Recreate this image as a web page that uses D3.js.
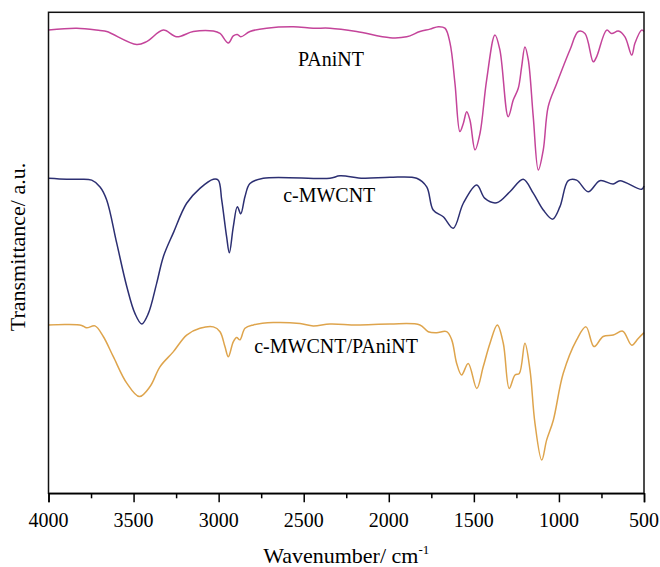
<!DOCTYPE html>
<html>
<head>
<meta charset="utf-8">
<script src="https://cdn.jsdelivr.net/npm/d3@7"></script>
</head>
<body style="margin:0">
<svg id="chart" width="660" height="567"></svg>
<script>
/* FTIR spectra, offset vertically; y is arbitrary transmittance units */

const wavenumberTicks = [4000, 3500, 3000, 2500, 2000, 1500, 1000, 500];
const minorTicks = [3750, 3250, 2750, 2250, 1750, 1250, 750];

const seriesNames = ["PAniNT", "c-MWCNT", "c-MWCNT/PAniNT"];

// [wavenumber, transmittance(a.u.)]
const paniNT = [
  [4000,96.3],[3834,96.7],[3697,96.2],[3658,96.0],[3482,93.3],[3423,93.9],[3325,96.3],[3247,94.9],
  [3149,96.0],[3031,96.1],[2992,95.6],[2943,93.6],[2914,95.1],[2890,95.4],[2870,94.9],[2816,96.0],
  [2718,96.7],[2561,97.0],[2444,96.7],[2346,96.7],[2189,96.0],[1993,94.7],[1895,94.9],[1817,96.0],
  [1758,96.5],[1709,97.0],[1670,96.7],[1640,93.6],[1611,85.2],[1582,75.2],[1562,76.9],[1542,79.3],
  [1523,77.6],[1493,71.4],[1464,74.8],[1425,85.9],[1376,95.3],[1347,92.2],[1298,78.3],[1268,81.8],
  [1239,84.2],[1219,88.7],[1200,92.8],[1180,90.1],[1151,78.3],[1121,67.2],[1092,71.4],[1063,80.4],
  [1013,85.2],[935,92.2],[886,96.0],[847,95.6],[798,89.7],[778,90.8],[719,96.3],[690,95.6],
  [651,96.1],[612,94.9],[572,91.1],[553,93.6],[514,96.3],[500,96.0]
];

const cMWCNT = [
  [4000,65.5],[3893,65.3],[3815,65.3],[3746,65.1],[3697,63.7],[3658,61.0],[3599,52.0],[3540,43.0],
  [3492,37.4],[3452,35.2],[3413,37.4],[3364,43.7],[3325,49.2],[3267,54.1],[3188,60.3],[3110,63.4],
  [3031,65.3],[3002,65.1],[2982,61.0],[2953,53.3],[2937,50.0],[2914,55.4],[2890,59.6],[2870,58.1],
  [2845,61.7],[2816,64.4],[2738,65.5],[2346,65.5],[2287,66.0],[2150,65.5],[1993,65.7],[1836,65.5],
  [1777,63.7],[1739,58.9],[1680,57.5],[1621,55.1],[1562,60.3],[1483,64.1],[1435,61.3],[1366,60.4],
  [1288,62.7],[1210,65.3],[1151,62.4],[1092,58.9],[1037,57.0],[994,59.6],[945,65.0],[896,65.1],
  [828,62.7],[759,65.0],[681,64.3],[641,65.0],[514,63.2],[500,63.9]
];

const composite = [
  [4000,35.0],[3893,35.1],[3805,34.9],[3776,34.4],[3727,34.8],[3678,32.6],[3619,28.4],[3540,22.9],
  [3466,20.1],[3403,22.2],[3345,26.3],[3267,29.4],[3188,32.9],[3110,34.3],[3031,34.6],[2992,33.6],
  [2963,30.5],[2943,28.4],[2914,31.5],[2894,32.4],[2875,31.9],[2845,34.3],[2796,35.0],[2679,35.5],
  [2522,35.3],[2444,34.8],[2346,35.2],[2189,35.0],[1993,35.2],[1817,35.0],[1768,33.6],[1719,33.4],
  [1660,33.6],[1630,31.9],[1601,27.0],[1572,24.6],[1533,27.0],[1483,21.8],[1445,26.3],[1405,31.2],
  [1362,35.0],[1327,31.2],[1292,21.8],[1258,24.6],[1233,24.9],[1200,31.2],[1170,25.6],[1141,14.6],
  [1101,6.9],[1072,11.1],[1033,15.2],[975,24.9],[896,31.9],[841,34.6],[794,30.5],[740,32.6],
  [681,32.9],[625,33.7],[572,30.8],[534,32.2],[500,33.4]
];

// label anchor (wavenumber, value) for each trace
const labelPos = [[2340, 88.8], [2350, 60.5], [2310, 29.1]];
const colours = ["#c4449a", "#2c2f72", "#dea44c"];

const serif = "'Liberation Serif'";

let svg = d3.select("#chart"),
  margin = { left: 48.5, right: 644, top: 12.3, bottom: 493.3 };

let x = d3.scaleLinear().domain([4000, 500]).range([margin.left, margin.right]),
  y = d3.scaleLinear().domain([0, 100]).range([margin.bottom, margin.top]);

let line = d3.line()
  .x(d => x(d[0]))
  .y(d => y(d[1]))
  .curve(d3.curveCatmullRom.alpha(0.5));

let traces = [paniNT, cMWCNT, composite];
svg.append("g").attr("class", "traces")
  .selectAll("path")
  .data(traces)
  .join("path")
  .attr("d", line)
  .attr("fill", "none")
  .attr("stroke", (d, i) => colours[i])
  .attr("stroke-width", 1.5);

// trace labels
svg.selectAll("text.trace-label")
  .data(seriesNames)
  .join("text")
  .attr("class", "trace-label")
  .attr("x", (d, i) => x(labelPos[i][0]))
  .attr("y", (d, i) => y(labelPos[i][1]))
  .attr("text-anchor", "middle")
  .style("font-family", serif)
  .attr("font-size", 20)
  .text(d => d);

// frame
svg.append("rect")
  .attr("x", margin.left).attr("y", margin.top)
  .attr("width", margin.right - margin.left).attr("height", margin.bottom - margin.top)
  .attr("fill", "none").attr("stroke", "#111").attr("stroke-width", 1.5);

// bottom axis: ticks only, labels drawn as plain text below
let gx = svg.append("g")
  .attr("transform", "translate(0," + margin.bottom + ")")
  .call(d3.axisBottom(x).tickValues(wavenumberTicks).tickSize(9).tickFormat(""));
gx.select(".domain").attr("stroke-width", 1.5);
gx.selectAll(".tick line").attr("stroke-width", 1.5);

let gm = svg.append("g")
  .attr("transform", "translate(0," + margin.bottom + ")")
  .call(d3.axisBottom(x).tickValues(minorTicks).tickSize(5).tickFormat(""));
gm.select(".domain").remove();
gm.selectAll(".tick line").attr("stroke-width", 1.5);

svg.selectAll("text.tick-label")
  .data(wavenumberTicks)
  .join("text")
  .attr("class", "tick-label")
  .attr("x", d => x(d))
  .attr("y", margin.bottom + 34)
  .attr("text-anchor", "middle")
  .style("font-family", serif)
  .attr("font-size", 20)
  .text(d => d);

// axis titles
let xt = svg.append("text")
  .attr("x", (margin.left + margin.right) / 2)
  .attr("y", 563)
  .attr("text-anchor", "middle")
  .style("font-family", serif)
  .attr("font-size", 22);
xt.append("tspan").text("Wavenumber/ cm");
xt.append("tspan").attr("font-size", 13).attr("dy", -9).text("-1");

svg.append("text")
  .attr("transform", "translate(25," + 247 + ") rotate(-90)")
  .attr("text-anchor", "middle")
  .style("font-family", serif)
  .attr("font-size", 22)
  .text("Transmittance/ a.u.");
</script>
</body>
</html>
